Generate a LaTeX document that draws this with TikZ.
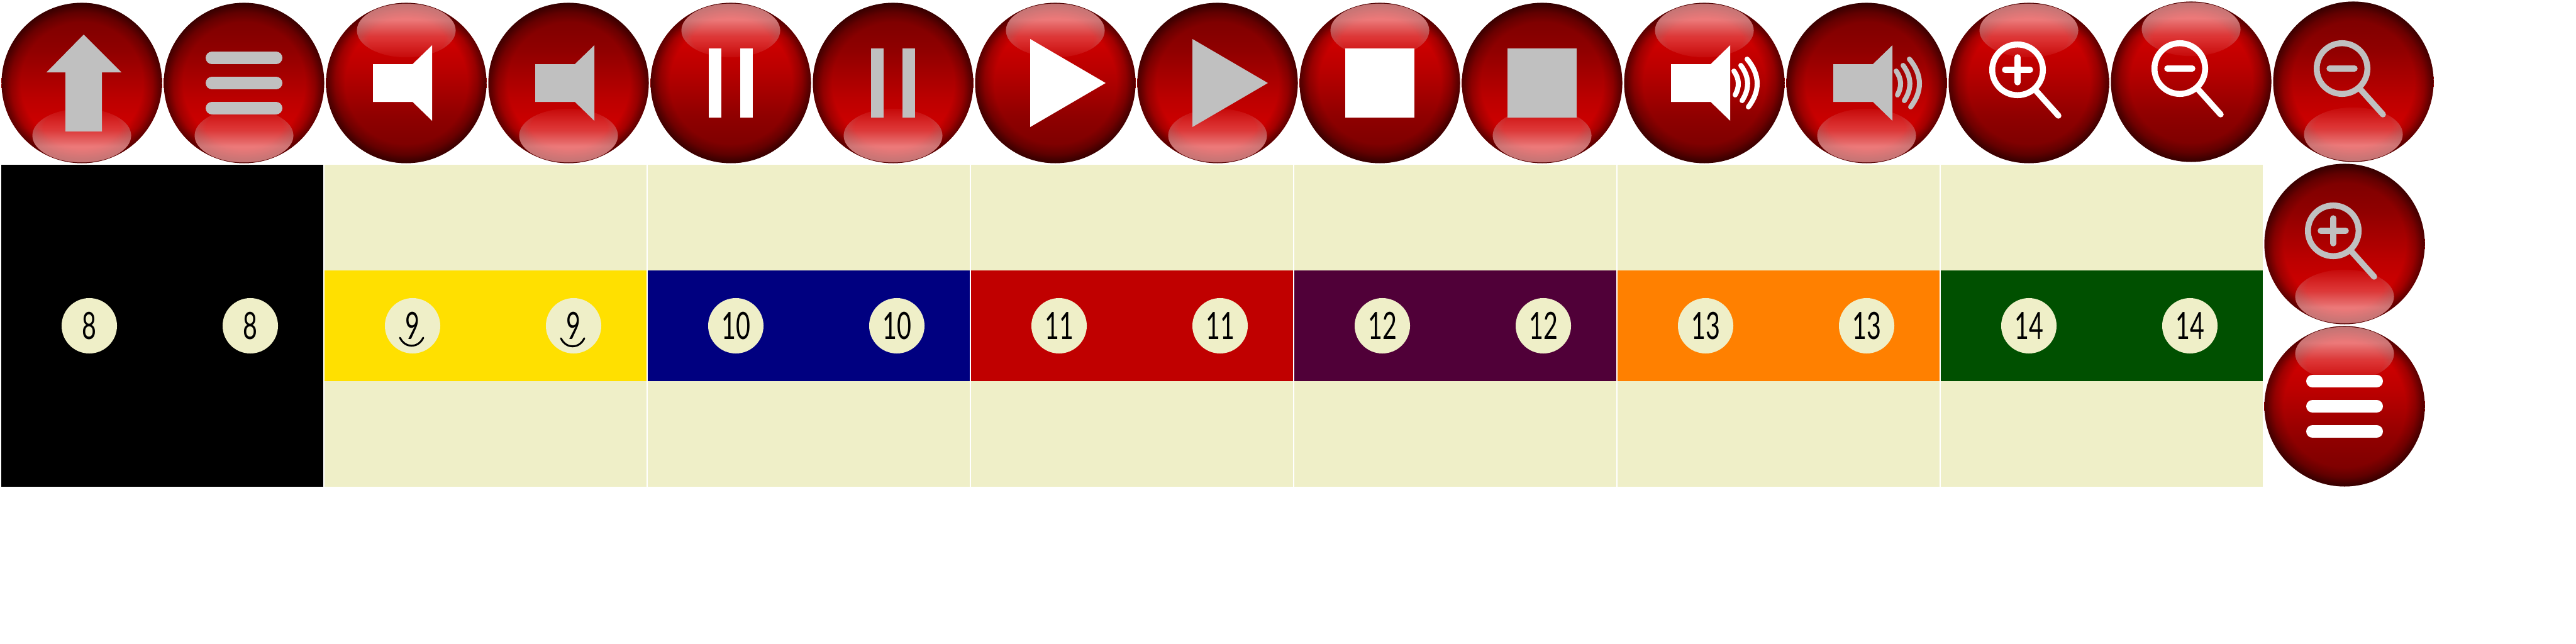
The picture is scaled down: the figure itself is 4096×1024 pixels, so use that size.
\documentclass[tikz,border=0pt]{standalone}
\usepackage{graphicx}
\usepackage{fontspec}
\usetikzlibrary{fadings}
\newfontfamily\numfont{Lato}

\definecolor{cream}{HTML}{EFEFC8}
\definecolor{glyphgrey}{HTML}{C0C0C0}
\definecolor{glossgrey}{HTML}{A07070}
\definecolor{glosspink}{HTML}{F08080}
\definecolor{bandyellow}{HTML}{FFE000}
\definecolor{bandblue}{HTML}{000080}
\definecolor{bandred}{HTML}{C00000}
\definecolor{bandpurple}{HTML}{500038}
\definecolor{bandorange}{HTML}{FF8000}
\definecolor{bandgreen}{HTML}{005000}
\definecolor{bodya}{HTML}{740000}
\definecolor{bodyb}{HTML}{900000}
\definecolor{bodyc}{HTML}{BC0000}
\definecolor{bodyd}{HTML}{D00000}
\definecolor{bodye}{HTML}{A80000}

% button body and its gloss
\pgfdeclareverticalshading{buttonred}{100bp}{color(0bp)=(bodye);color(25bp)=(bodye);
  color(36bp)=(bodyd);color(45bp)=(bodyc);color(60bp)=(bodyb);
  color(75bp)=(bodya);color(100bp)=(bodya)}
\pgfdeclareradialshading{rimshade}{\pgfpoint{0bp}{0bp}}{color(0bp)=(pgftransparent!100);
  color(19bp)=(pgftransparent!100);color(22bp)=(pgftransparent!80);color(24bp)=(pgftransparent!55);
  color(25bp)=(pgftransparent!45);color(50bp)=(pgftransparent!45)}
\pgfdeclarefading{buttonrim}{\pgfuseshading{rimshade}}
\pgfdeclareverticalshading{glossshade}{100bp}{color(0bp)=(pgftransparent!92);color(25bp)=(pgftransparent!92);
  color(45bp)=(pgftransparent!55);color(60bp)=(pgftransparent!5);color(100bp)=(pgftransparent!5)}
\pgfdeclarefading{glossfade}{\pgfuseshading{glossshade}}
\pgfdeclareradialshading{glossrimshade}{\pgfpoint{0bp}{-12bp}}{color(0bp)=(pgftransparent!100);
  color(19bp)=(pgftransparent!100);color(27bp)=(pgftransparent!62);color(37bp)=(pgftransparent!15);
  color(50bp)=(pgftransparent!15)}
\pgfdeclarefading{glossrim}{\pgfuseshading{glossrimshade}}

\tikzset{
  numdisc/.style={circle,fill=cream,inner sep=0pt,minimum size=.88cm,text=black,
    font=\numfont\fontsize{17}{18}\selectfont},
  waveline/.style={line width=.08cm,line cap=round},
  lensline/.style={line width=.095cm,line cap=round},
  barline/.style={line width=.2cm,line cap=round}
}

% #1 x, #2 y, #3 angle: 0 has the gloss below, 180 has it above
\newcommand{\redbutton}[3]{
  \begin{scope}[shift={(#1,#2)}]
    \shade[shading=buttonred,shading angle=#3] (0,0) circle[radius=127.5];
    \fill[black,path fading=buttonrim] (0,0) circle[radius=127.5];
    \fill[glosspink,path fading=glossfade,fading angle=#3+180] (0,{83.5*cos(#3)}) ellipse[x radius=78.5,y radius=42.7];
    \fill[glossgrey,path fading=glossrim,fading angle=#3+180] (0,{83.5*cos(#3)}) ellipse[x radius=78.5,y radius=42.7];
  \end{scope}
}
\newcommand{\menuglyph}[3]{
  \begin{scope}[shift={(#1,#2)}]
    \draw[barline,#3] (-51,-40) -- (51,-40);
    \draw[barline,#3] (-51,0) -- (51,0);
    \draw[barline,#3] (-51,40) -- (51,40);
  \end{scope}
}
\newcommand{\speakerglyph}[3]{
  \fill[#3,shift={(#1,#2)}] (-53,-30) -- (10,-30) -- (41,-60) -- (41,60) -- (10,30) -- (-53,30) -- cycle;
}
\newcommand{\wavesglyph}[3]{
  \begin{scope}[shift={(#1,#2)}]
    \draw[waveline,#3] (47,-19) .. controls (56,-6) and (56,6) .. (49,19);
    \draw[waveline,#3] (58,-28) .. controls (72,-9) and (72,9) .. (60,28);
    \draw[waveline,#3] (68,-38) .. controls (89,-13) and (89,13) .. (70,38);
  \end{scope}
}
\newcommand{\pauseglyph}[3]{
  \begin{scope}[shift={(#1,#2)}]
    \fill[#3] (-35,-55) rectangle (-15,55);
    \fill[#3] (15,-55) rectangle (35,55);
  \end{scope}
}
\newcommand{\playglyph}[3]{
  \fill[#3,shift={(#1,#2)}] (-40,-70) -- (80,0) -- (-40,70) -- cycle;
}
\newcommand{\stopglyph}[3]{
  \fill[#3,shift={(#1,#2)}] (-55,-55) rectangle (55,55);
}
\newcommand{\lensglyph}[3]{
  \begin{scope}[shift={(#1,#2)}]
    \draw[lensline,#3,line cap=butt] (-18,-21) circle[radius=40.3];
    \draw[lensline,#3] (12,13) -- (47,52);
    \draw[lensline,#3] (-38,-21) -- (2,-21);
  \end{scope}
}
\newcommand{\plusglyph}[3]{
  \draw[lensline,#3,shift={(#1,#2)}] (-18,-41) -- (-18,-1);
}
% #1 x of the panel, #2 colour of the band, #3 number
\newcommand{\numpanel}[3]{
  \fill[cream] (#1,262) rectangle ++(512,512);
  \fill[#2] (#1,430) rectangle ++(512,176);
  \node[numdisc] (n#3a) at ({#1+140},518) {\scalebox{.66}[1]{#3}};
  \node[numdisc] (n#3b) at ({#1+396},518) {\scalebox{.66}[1]{#3}};
}

\begin{document}
\begin{tikzpicture}[x=.01cm,y=-.01cm]
\useasboundingbox (0,0) rectangle (4096,1024);

%panels
\numpanel{516}{bandyellow}{9}
\numpanel{1030}{bandblue}{10}
\numpanel{1544}{bandred}{11}
\numpanel{2058}{bandpurple}{12}
\numpanel{2572}{bandorange}{13}
\numpanel{3086}{bandgreen}{14}
\fill[black] (2,262) rectangle (514,774);
\node[numdisc] (n8a) at (142,518) {\scalebox{.66}[1]{8}};
\node[numdisc] (n8b) at (398,518) {\scalebox{.66}[1]{8}};

%smiles under the nines
\draw[line width=.03cm,line cap=round] (636,537) .. controls (644,554) and (665,554) .. (673,537);
\draw[line width=.03cm,line cap=round] (892,538) .. controls (900,555) and (921,555) .. (929,538);

%top row
\redbutton{130}{132}{0}
\fill[glyphgrey] (133,55) -- (193,115) -- (162,115) -- (162,209) -- (104,209) -- (104,115) -- (74,115) -- cycle;
\redbutton{388}{132}{0}
\menuglyph{388}{132}{glyphgrey}
\redbutton{646}{132}{180}
\speakerglyph{646}{132}{white}
\redbutton{904}{132}{0}
\speakerglyph{904}{132}{glyphgrey}
\redbutton{1162}{132}{180}
\pauseglyph{1162}{132}{white}
\redbutton{1420}{132}{0}
\pauseglyph{1420}{132}{glyphgrey}
\redbutton{1678}{132}{180}
\playglyph{1678}{132}{white}
\redbutton{1936}{132}{0}
\playglyph{1936}{132}{glyphgrey}
\redbutton{2194}{132}{180}
\stopglyph{2194}{132}{white}
\redbutton{2452}{132}{0}
\stopglyph{2452}{132}{glyphgrey}
\redbutton{2710}{132}{180}
\speakerglyph{2710}{132}{white}
\wavesglyph{2710}{132}{white}
\redbutton{2968}{132}{0}
\speakerglyph{2968}{132}{glyphgrey}
\wavesglyph{2968}{132}{glyphgrey}
\redbutton{3226}{132}{180}
\lensglyph{3226}{132}{white}
\plusglyph{3226}{132}{white}
\redbutton{3484}{130}{180}
\lensglyph{3484}{130}{white}
\redbutton{3742}{130}{0}
\lensglyph{3742}{130}{glyphgrey}

%side column
\redbutton{3728}{388}{0}
\lensglyph{3728}{388}{glyphgrey}
\plusglyph{3728}{388}{glyphgrey}
\redbutton{3728}{646}{180}
\menuglyph{3728}{646}{white}

\end{tikzpicture}
\end{document}
